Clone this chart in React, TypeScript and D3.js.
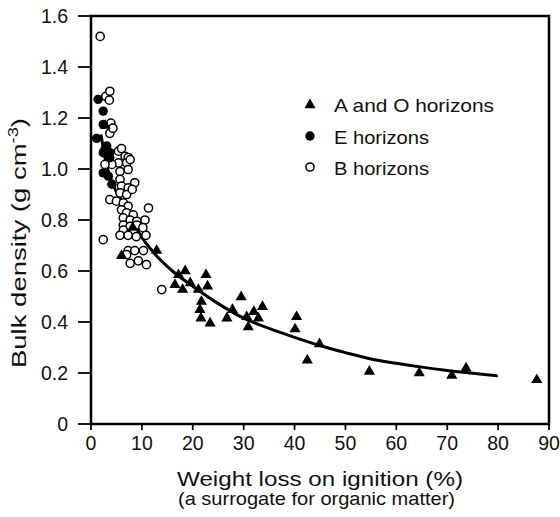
import React from "react";
import * as d3 from "d3";

const aoHorizons: [number, number][] = [
  [6.0, 0.66], [8.2, 0.77], [12.9, 0.68], [2.8, 1.17],
  [16.5, 0.546], [17.2, 0.585], [18.0, 0.527], [18.5, 0.6], [19.5, 0.553],
  [21.1, 0.527], [21.4, 0.448], [21.6, 0.415], [21.7, 0.48], [22.6, 0.585],
  [22.9, 0.54], [23.4, 0.395], [26.7, 0.415], [27.8, 0.448], [29.5, 0.498],
  [30.6, 0.42], [30.9, 0.38], [32.0, 0.44], [32.9, 0.415], [33.7, 0.46],
  [40.1, 0.372], [40.4, 0.42], [42.5, 0.25], [44.9, 0.314], [54.7, 0.206],
  [64.5, 0.2], [70.9, 0.19], [73.7, 0.219], [87.6, 0.173],
];

const eHorizons: [number, number][] = [
  [1.4, 1.273], [2.4, 1.227], [2.4, 1.175], [1.1, 1.12], [2.75, 1.077],
  [3.1, 1.09], [3.7, 1.064], [2.4, 1.064], [3.7, 1.044], [2.4, 0.985],
  [3.4, 0.972], [4.1, 0.94],
];

const bHorizons: [number, number][] = [
  [1.8, 1.52], [2.9, 1.285], [3.7, 1.305], [3.6, 1.27],
  [3.9, 1.18], [3.7, 1.14], [4.3, 1.16],
  [5.4, 1.07], [6.0, 1.08], [6.7, 1.05], [7.3, 1.045],
  [5.4, 1.024], [7.0, 1.024], [4.1, 1.018], [2.75, 1.018],
  [5.7, 0.99], [7.3, 0.998], [7.7, 1.037],
  [5.7, 0.959], [8.6, 0.946], [6.0, 0.933], [7.3, 0.926],
  [5.7, 0.906], [7.0, 0.9], [3.7, 0.88], [5.0, 0.874], [6.35, 0.867],
  [7.3, 0.854], [11.3, 0.847], [8.1, 0.92],
  [6.0, 0.84], [7.0, 0.828], [8.3, 0.82], [6.35, 0.808], [7.7, 0.8],
  [9.0, 0.795], [10.6, 0.8],
  [6.35, 0.78], [7.7, 0.775], [9.0, 0.78], [10.2, 0.77],
  [6.35, 0.76], [8.3, 0.755],
  [5.7, 0.74], [7.3, 0.74], [8.9, 0.735], [10.8, 0.74],
  [2.4, 0.723],
  [7.3, 0.68], [8.6, 0.68], [10.3, 0.68], [7.0, 0.664],
  [7.7, 0.63], [9.3, 0.64], [10.9, 0.625],
  [13.9, 0.527],
];

const fitX = [2, 3, 4.4, 6.4, 8, 10.3, 13, 16, 20, 25, 30, 35, 40, 45, 50, 55, 60, 65, 70, 75, 79.7];
const fitY = [1.13, 1.02, 0.935, 0.86, 0.8, 0.723, 0.657, 0.6, 0.54, 0.472, 0.415, 0.375, 0.34, 0.308, 0.28, 0.255, 0.238, 0.223, 0.21, 0.199, 0.189];

const xTicks = [0, 10, 20, 30, 40, 50, 60, 70, 80, 90];
const yTicks = [0, 0.2, 0.4, 0.6, 0.8, 1.0, 1.2, 1.4, 1.6];
const legendLabels = ["A and O horizons", "E horizons", "B horizons"];
const legendWidths = [160, 95, 95];

const FONT = "'Liberation Sans', Arial, Helvetica, sans-serif";

export default function App() {
  const W = 560, H = 517;
  const x = d3.scaleLinear().domain([0, 90]).range([91, 549]);
  const y = d3.scaleLinear().domain([0, 1.6]).range([424, 16]);
  const [x0, x1] = x.range();
  const [y0, y1] = y.range();

  const line = d3
    .line<number>()
    .x((d) => x(fitX[d]))
    .y((d) => y(fitY[d]))
    .curve(d3.curveMonotoneX);
  const fitPath = line(fitX.map((_, i) => i)) || "";

  const tri = d3.symbol().type(d3.symbolTriangle).size(54)() || "";
  const yFmt = (v: number) => (v === 0 ? "0" : v.toFixed(1));
  const framePath = `M${x0},${y1}H${x1}V${y0}H${x0}Z`;

  return (
    <svg width={W} height={H} style={{ position: "absolute", left: 0, top: 0, background: "#fff" }} fontFamily={FONT}>
      {/* y ticks */}
      {yTicks.map((t) => (
        <g key={"y" + t}>
          <line x1={x0 - 13} x2={x0} y1={y(t)} y2={y(t)} stroke="#000" strokeWidth={1.8} />
          <text x={68} y={y(t)} dy="0.35em" textAnchor="end" fontSize={19.5} fill="#111">
            {yFmt(t)}
          </text>
        </g>
      ))}
      {/* x ticks */}
      {xTicks.map((t) => (
        <g key={"x" + t}>
          <line x1={x(t)} x2={x(t)} y1={y0} y2={y0 + 6} stroke="#000" strokeWidth={1.8} />
          <text x={x(t)} y={450} textAnchor="middle" fontSize={19.5} fill="#111">
            {t}
          </text>
        </g>
      ))}
      {/* frame */}
      <path d={framePath} fill="none" stroke="#000" strokeWidth={2.5} />
      {/* axis titles */}
      <text x={320} y={486} textAnchor="middle" fontSize={21} fill="#111" textLength={286} lengthAdjust="spacingAndGlyphs">
        Weight loss on ignition (%)
      </text>
      <text x={316.5} y={505} textAnchor="middle" fontSize={18.5} fill="#111" textLength={277} lengthAdjust="spacingAndGlyphs">
        (a surrogate for organic matter)
      </text>
      <text
        transform={`translate(26,243) rotate(-90)`}
        textAnchor="middle"
        fontSize={21}
        fill="#111"
        textLength={250}
        lengthAdjust="spacingAndGlyphs"
      >
        Bulk density (g cm<tspan dy="-8" fontSize={14}>-3</tspan><tspan dy="8">)</tspan>
      </text>

      {/* fitted curve */}
      <path d={fitPath} fill="none" stroke="#000" strokeWidth={3} strokeLinecap="round" />

      {/* B horizons: open circles */}
      {bHorizons.map((d, i) => (
        <circle key={"b" + i} cx={x(d[0])} cy={y(d[1])} r={4.1} fill="#fff" stroke="#000" strokeWidth={1.5} />
      ))}
      {/* E horizons: filled circles */}
      {eHorizons.map((d, i) => (
        <circle key={"e" + i} cx={x(d[0])} cy={y(d[1])} r={4.7} fill="#000" />
      ))}
      {/* A and O horizons: triangles */}
      {aoHorizons.map((d, i) => (
        <path key={"a" + i} d={tri} transform={`translate(${x(d[0])},${y(d[1])})`} fill="#000" />
      ))}

      {/* legend */}
      <path d={tri} transform="translate(310,105)" fill="#000" />
      <circle cx={310} cy={136} r={4.7} fill="#000" />
      <circle cx={310} cy={167} r={4.1} fill="#fff" stroke="#000" strokeWidth={1.5} />
      {legendLabels.map((l, i) => (
        <text key={l} x={334} y={112 + i * 31.5} fontSize={19} fill="#111" textLength={legendWidths[i]} lengthAdjust="spacingAndGlyphs">
          {l}
        </text>
      ))}
    </svg>
  );
}
